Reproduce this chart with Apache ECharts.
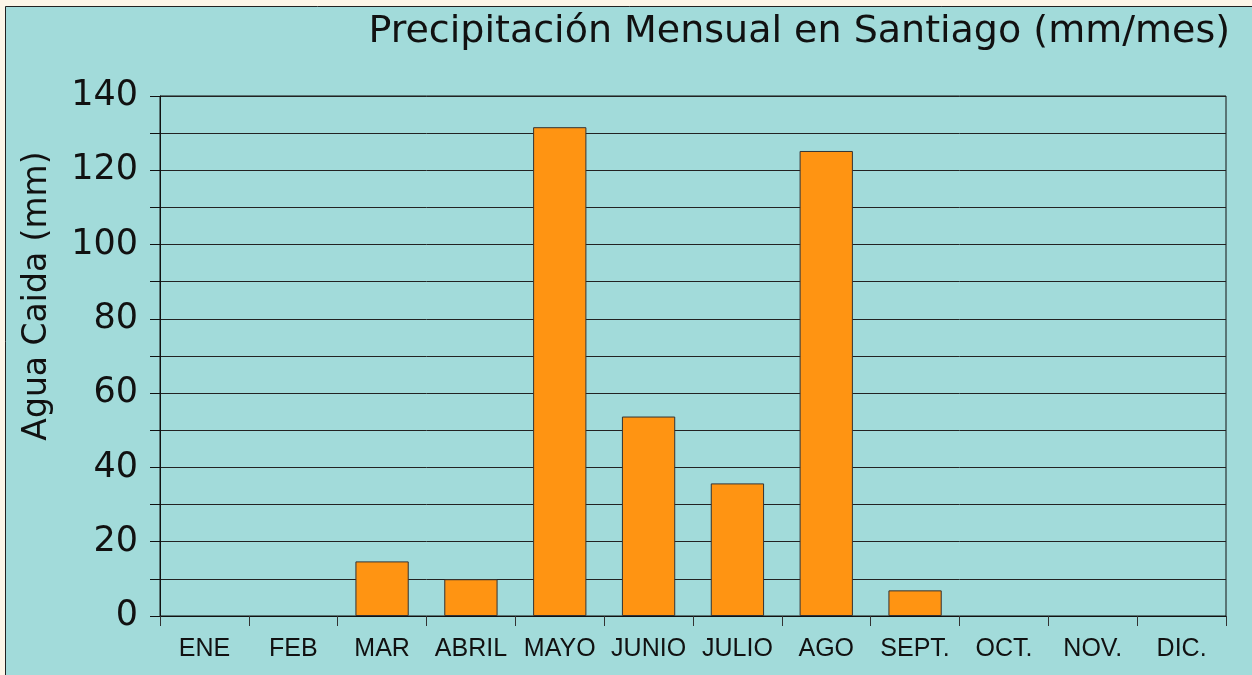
<!DOCTYPE html>
<html>
<head>
<meta charset="utf-8">
<script src="https://cdn.jsdelivr.net/npm/echarts@6/dist/echarts.min.js"></script>
<style>
  html, body { margin: 0; padding: 0; background: #fdf6e8; }
  #chart { width: 1252px; height: 675px; }
</style>
</head>
<body>
<div id="chart"></div>
<script>
// meses y precipitación (mm)
const meses = ['ENE', 'FEB', 'MAR', 'ABRIL', 'MAYO', 'JUNIO', 'JULIO', 'AGO', 'SEPT.', 'OCT.', 'NOV.', 'DIC.'];
const precipitacion = [0, 0, 14.7, 9.9, 131.6, 53.7, 35.7, 125.2, 6.9, 0, 0, 0];

const myChart = echarts.init(document.getElementById('chart'));

const option = {
  backgroundColor: '#fdf6e8',
  animation: false,
  graphic: [{
    type: 'rect',
    z: -10,
    shape: { x: 5.5, y: 6.5, width: 1260, height: 680 },
    style: { fill: '#a2dbda', stroke: '#222', lineWidth: 1 }
  }, {
    // titulo del eje Y (no centrado en el area, como en el original)
    type: 'text',
    x: 37,
    y: 296,
    rotation: Math.PI / 2,
    style: {
      text: 'Agua Caida (mm)',
      fontFamily: 'DejaVu Sans',
      fontSize: 33,
      fill: '#111',
      align: 'center',
      verticalAlign: 'middle'
    }
  }],
  title: {
    text: 'Precipitación Mensual en Santiago (mm/mes)',
    right: 17,
    top: 8,
    textStyle: {
      fontFamily: 'DejaVu Sans',
      fontWeight: 'normal',
      fontSize: 38,
      color: '#111'
    }
  },
  grid: {
    left: 160,
    right: 26,
    top: 96,
    bottom: 59,
    show: true,
    borderColor: '#111',
    borderWidth: 1,
    backgroundColor: 'transparent'
  },
  xAxis: {
    type: 'category',
    data: meses,
    axisLine: { lineStyle: { color: '#111', width: 1 } },
    axisTick: { show: true, length: 10, lineStyle: { color: '#333' } },
    axisLabel: {
      interval: 0,
      margin: 21,
      fontFamily: 'Liberation Sans',
      fontSize: 25,
      color: '#111'
    }
  },
  yAxis: {
    type: 'value',
    min: 0,
    max: 140,
    interval: 10,
    axisLine: { show: true, lineStyle: { color: '#111' } },
    axisTick: { show: true, length: 10, lineStyle: { color: '#111' } },
    axisLabel: {
      margin: 22,
      fontFamily: 'DejaVu Sans',
      fontSize: 35,
      color: '#111',
      formatter: v => (v % 20 === 0 ? v : '')
    },
    splitLine: { show: true, lineStyle: { color: '#222', width: 1 } }
  },
  series: [{
    name: 'Precipitación',
    type: 'bar',
    data: precipitacion.map(v => ({
      value: v,
      itemStyle: v === 0 ? { borderWidth: 0 } : undefined
    })),
    barWidth: '60%',
    itemStyle: {
      color: '#ff9412',
      borderColor: '#333',
      borderWidth: 1
    }
  }]
};

myChart.setOption(option);
window.addEventListener('resize', () => myChart.resize());
</script>
</body>
</html>
